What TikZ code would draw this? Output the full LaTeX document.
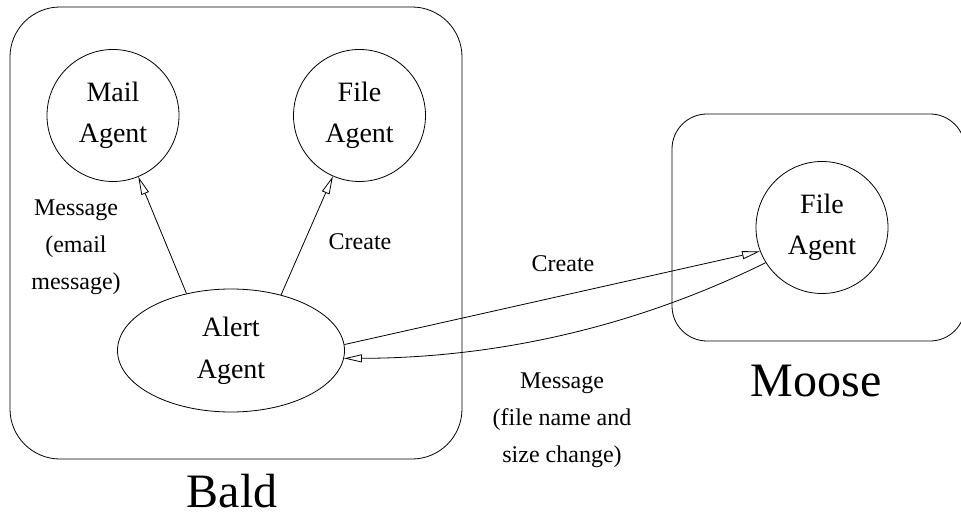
\documentclass[tikz,border=0pt]{standalone}
\usepackage{fontspec}
\setmainfont{Liberation Serif}
\usetikzlibrary{arrows.meta,shapes.geometric}
\begin{document}
\begin{tikzpicture}[x=1bp,y=-1bp,
  every path/.style={line width=0.8bp},
  hostbox/.style={draw, line width=0.8bp, inner sep=0pt},
  agent/.style={draw, circle, line width=0.8bp, inner sep=0pt, minimum size=132bp, align=center, font=\fontsize{28bp}{41bp}\selectfont},
  alertbox/.style={draw, ellipse, line width=0.8bp, inner sep=0pt, minimum width=227bp, minimum height=123bp, align=center, font=\fontsize{28bp}{42bp}\selectfont},
  lbl/.style={inner sep=0pt, align=center, font=\fontsize{24bp}{37bp}\selectfont},
  hostlbl/.style={inner sep=0pt, anchor=base, text depth=0pt, font=\fontsize{48bp}{56bp}\selectfont},
  arr/.style={-{Triangle[open, length=18bp, width=8bp]}, line width=0.8bp}]
\useasboundingbox (0,0) rectangle (961,516);
% host boxes
\node[hostbox, rounded corners=50bp, minimum width=452bp, minimum height=452bp] (bald) at (236,233) {};
\node[hostbox, rounded corners=35bp, minimum width=293bp, minimum height=227bp] (moose) at (818.5,227.5) {};
\node[hostlbl] (baldlbl) at (232,507) {Bald};
\node[hostlbl] (mooselbl) at (816,396) {Moose};
% agents
\node[agent] (mail) at (113,115.5) {Mail\\Agent};
\node[agent] (bfile) at (359.5,115.5) {File\\Agent};
\node[alertbox] (alert) at (231,350.5) {Alert\\Agent};
\node[agent] (mfile) at (822,227.5) {File\\Agent};
% connectors
\draw[arr] (alert.128) -- (mail);
\draw[arr] (alert.48) -- (bfile);
\draw[arr] (alert.3) -- (mfile.201);
\draw[arr] (mfile.212) .. controls (625,332) and (485,358) .. (alert.356);
% labels
\node[lbl] (lmail) at (76,247) {Message\\(email\\message)};
\node[lbl, anchor=base] (lcreate1) at (360,250) {Create};
\node[lbl, anchor=base] (lcreate2) at (563,272) {Create};
\node[lbl] (lmsg) at (562,420) {Message\\(file name and\\size change)};
\end{tikzpicture}
\end{document}
